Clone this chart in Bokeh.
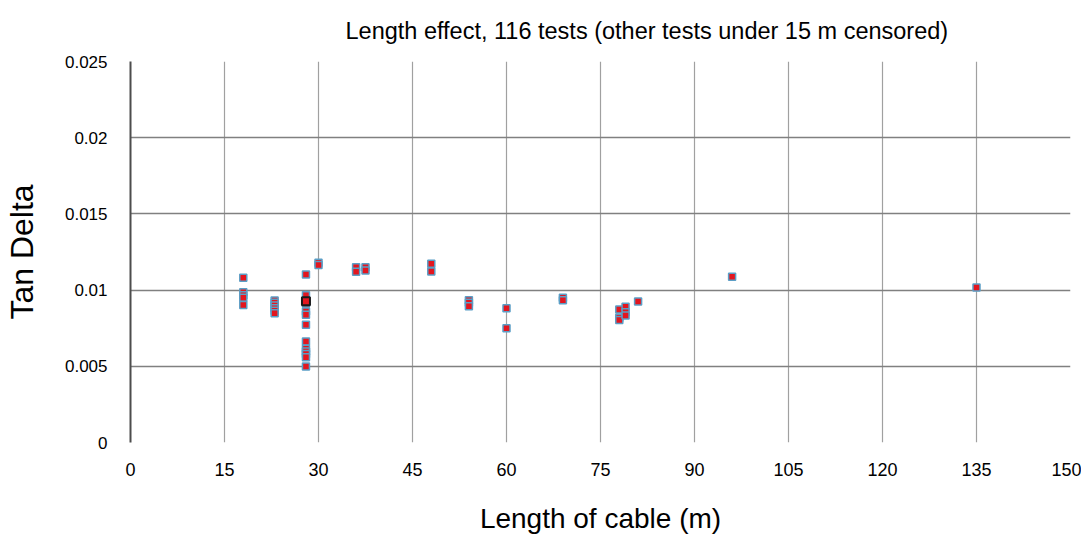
from bokeh.plotting import figure
from bokeh.models import ColumnDataSource, FixedTicker, Range1d
from bokeh.embed import file_html
from bokeh.resources import INLINE

# ---- data ----
length_m = [18, 18, 18, 18, 18,
            23, 23, 23, 23, 23, 23,
            28, 28, 28, 28, 28, 28, 28, 28, 28, 28, 28, 28, 28,
            30, 30, 36, 36, 37.5, 37.5, 48, 48,
            54, 54, 54, 60, 60, 69, 69,
            78, 78, 78, 79, 79, 79, 81, 96, 135]
tan_delta = [0.01081, 0.00986, 0.00967, 0.00949, 0.00903,
             0.00932, 0.00917, 0.00899, 0.00881, 0.00864, 0.00848,
             0.01102, 0.00967, 0.00927, 0.00912, 0.00860, 0.00838, 0.00772, 0.00663, 0.00615, 0.00597, 0.00580, 0.00560, 0.00499,
             0.01179, 0.01164, 0.01150, 0.01120, 0.01150, 0.01129, 0.01173, 0.01122,
             0.00934, 0.00917, 0.00894, 0.00881, 0.00750, 0.00949, 0.00934,
             0.00873, 0.00818, 0.00803, 0.00890, 0.00855, 0.00833, 0.00925, 0.01087, 0.01017]
# overlapping (stacked) tests drawn with a dark outline
overlap_len = [28]
overlap_td = [0.00927]

x_ticks = [0, 15, 30, 45, 60, 75, 90, 105, 120, 135, 150]
y_ticks = [0, 0.005, 0.01, 0.015, 0.02, 0.025]
y_tick_labels = ["0", "0.005", "0.01", "0.015", "0.02", "0.025"]

title_text = "Length effect, 116 tests (other tests under 15 m censored)"
x_title = "Length of cable (m)"
y_title = "Tan Delta"

FONT = "Liberation Sans"

p = figure(frame_width=940, frame_height=381,
           min_border_left=124, min_border_right=11, min_border_top=61, min_border_bottom=92,
           x_range=Range1d(0, 150), y_range=Range1d(0, 0.025),
           output_backend="svg", toolbar_location=None,
           background_fill_color="white", border_fill_color="white")
p.outline_line_color = None

p.title.text = title_text
p.title.text_font = FONT
p.title.text_font_size = "23.5px"
p.title.text_font_style = "normal"
p.title.text_color = "#000000"
p.title.align = "left"
p.title.vertical_align = "top"
p.title.offset = 215
p.title.standoff = 31

# axes
p.xaxis.ticker = FixedTicker(ticks=x_ticks)
p.yaxis.ticker = FixedTicker(ticks=y_ticks)
p.yaxis.major_label_overrides = {t: l for t, l in zip(y_ticks, y_tick_labels)}

p.xaxis.axis_line_color = None
p.xaxis.major_tick_line_color = None
p.xaxis.minor_tick_line_color = None
p.xaxis.major_label_text_font = FONT
p.xaxis.major_label_text_font_size = "18px"
p.xaxis.major_label_text_color = "#000000"
p.xaxis.major_label_standoff = 14
p.xaxis.axis_label = x_title
p.xaxis.axis_label_text_font = FONT
p.xaxis.axis_label_text_font_size = "28px"
p.xaxis.axis_label_text_font_style = "normal"
p.xaxis.axis_label_text_color = "#000000"
p.xaxis.axis_label_standoff = 24

p.yaxis.axis_line_color = "#4d4d4d"
p.yaxis.axis_line_width = 2
p.yaxis.major_tick_line_color = None
p.yaxis.minor_tick_line_color = None
p.yaxis.major_label_text_font = FONT
p.yaxis.major_label_text_font_size = "17px"
p.yaxis.major_label_text_color = "#000000"
p.yaxis.major_label_standoff = 17
p.yaxis.axis_label = y_title
p.yaxis.axis_label_text_font = FONT
p.yaxis.axis_label_text_font_size = "32px"
p.yaxis.axis_label_text_font_style = "normal"
p.yaxis.axis_label_text_color = "#000000"
p.yaxis.axis_label_standoff = 22

# grid
p.xgrid.grid_line_color = "#a0a0a0"
p.xgrid.grid_line_width = 1.2
p.ygrid.grid_line_color = "#808080"
p.ygrid.grid_line_width = 1.5

# data
src = ColumnDataSource(dict(x=length_m, y=tan_delta))
p.scatter("x", "y", source=src, marker="square", size=7,
          fill_color="#e3161f", line_color="#5b9ec6", line_width=1.5)
src2 = ColumnDataSource(dict(x=overlap_len, y=overlap_td))
p.scatter("x", "y", source=src2, marker="square", size=8,
          fill_color="#e3161f", line_color="#1a1a1a", line_width=2)

open("out.html", "w").write(file_html(p, INLINE))
